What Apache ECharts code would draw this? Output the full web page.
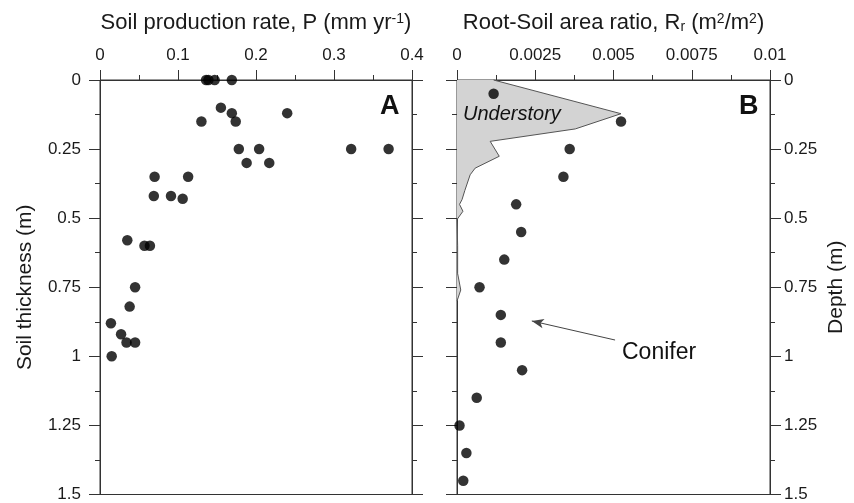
<!DOCTYPE html>
<html>
<head>
<meta charset="utf-8">
<script src="https://cdn.jsdelivr.net/npm/echarts@6/dist/echarts.min.js"></script>
<style>
  html, body { margin: 0; padding: 0; background: #fff; }
  #chart { width: 854px; height: 503px; }
</style>
</head>
<body>
<div id="chart"></div>
<script>
// Panel A: soil production rate against soil thickness
const prodRate = [0.136, 0.139, 0.147, 0.169, 0.155, 0.169, 0.174, 0.130, 0.240, 0.178,
                  0.204, 0.188, 0.217, 0.322, 0.370, 0.070, 0.113, 0.069, 0.091, 0.106,
                  0.035, 0.057, 0.064, 0.045, 0.038, 0.014, 0.027, 0.034, 0.045, 0.015];
const soilThickness = [0, 0, 0, 0, 0.10, 0.12, 0.15, 0.15, 0.12, 0.25,
                       0.25, 0.30, 0.30, 0.25, 0.25, 0.35, 0.35, 0.42, 0.42, 0.43,
                       0.58, 0.60, 0.60, 0.75, 0.82, 0.88, 0.92, 0.95, 0.95, 1.00];

// Panel B: conifer root-soil area ratio by depth
const coniferDepth = [0.05, 0.15, 0.25, 0.35, 0.45, 0.55, 0.65, 0.75, 0.85, 0.95, 1.05, 1.15, 1.25, 1.35, 1.45];
const coniferRatio = [0.00117, 0.00524, 0.0036, 0.0034, 0.00189, 0.00205, 0.00151, 0.00072,
                      0.0014, 0.0014, 0.00208, 0.00063, 0.00008, 0.0003, 0.0002];

// Panel B: understory root profile (shaded)
const understoryDepth = [0, 0.122, 0.177, 0.222, 0.276, 0.319, 0.343, 0.40, 0.433, 0.45, 0.475, 0.505, 0.60, 0.70, 0.76, 0.80];
const understoryRatio = [0.00117, 0.00524, 0.00378, 0.00106, 0.00135, 0.00058, 0.00042, 0.00025,
                         0.00016, 0.00008, 0.00019, 0.0, 0.00002, 0.00002, 0.00012, 0.0];

// Arrow pointing at the conifer profile: [ratio, depth] tail and head
const arrowTail = [0.00505, 0.941];
const arrowHead = [0.00239, 0.872];

const FONT = 'Liberation Sans';
const INK = '#1a1a1a';
const LINE = '#333';

function pairs(xs, ys) { return xs.map((x, i) => [x, ys[i]]); }

function depthAxis(gridIndex, position, showLabels, name, nameGap) {
  return {
    type: 'value', gridIndex, position, inverse: true,
    min: 0, max: 1.5, interval: 0.25,
    axisLine: { show: true, onZero: false, lineStyle: { color: LINE, width: 1 } },
    axisTick: { show: true, inside: false, length: 11, lineStyle: { color: LINE } },
    minorTick: { show: true, splitNumber: 2, length: 5, lineStyle: { color: LINE } },
    axisLabel: { show: showLabels, fontFamily: FONT, fontSize: 17, color: INK, margin: position === 'left' ? 19 : 14 },
    splitLine: { show: false },
    name: name || '', nameLocation: 'middle', nameRotate: 90, nameGap: nameGap || 0,
    nameTextStyle: { fontFamily: FONT, fontSize: 21, color: INK }
  };
}

function topAxis(gridIndex, max, interval, nameRich) {
  return {
    type: 'value', gridIndex, position: 'top',
    min: 0, max, interval,
    axisLine: { show: true, onZero: false, lineStyle: { color: LINE, width: 1 } },
    axisTick: { show: true, inside: false, length: 10, lineStyle: { color: LINE } },
    minorTick: { show: true, splitNumber: 2, length: 5, lineStyle: { color: LINE } },
    axisLabel: { fontFamily: FONT, fontSize: 17, color: INK, margin: 16 },
    splitLine: { show: false },
    name: nameRich, nameLocation: 'middle', nameGap: 46,
    nameTextStyle: {
      fontFamily: FONT, fontSize: 22, color: INK,
      rich: {
        sup: { fontFamily: FONT, fontSize: 14, color: INK, verticalAlign: 'top' },
        sub: { fontFamily: FONT, fontSize: 14, color: INK, verticalAlign: 'bottom' }
      }
    }
  };
}

const chart = echarts.init(document.getElementById('chart'), null, { renderer: 'canvas' });

chart.setOption({
  animation: false,
  backgroundColor: '#fff',
  grid: [
    { left: 100, top: 80, width: 312, height: 416, show: true, borderColor: LINE, borderWidth: 1, backgroundColor: 'transparent' },
    { left: 457, top: 80, width: 313, height: 416, show: true, borderColor: LINE, borderWidth: 1, backgroundColor: 'transparent' }
  ],
  xAxis: [
    topAxis(0, 0.4, 0.1, 'Soil production rate, P (mm yr{sup|-1})'),
    topAxis(1, 0.01, 0.0025, 'Root-Soil area ratio, R{sub|r} (m{sup|2}/m{sup|2})')
  ],
  yAxis: [
    depthAxis(0, 'left', true, 'Soil thickness (m)', 64),
    depthAxis(0, 'right', false),
    depthAxis(1, 'left', false),
    depthAxis(1, 'right', true, 'Depth (m)', 56)
  ],
  series: [
    {
      type: 'custom', xAxisIndex: 1, yAxisIndex: 2, z: 1, clip: false,
      data: pairs(understoryRatio, understoryDepth),
      renderItem: function (params, api) {
        if (params.dataIndex !== 0) return null;
        const outline = understoryRatio.map((r, i) => api.coord([r, understoryDepth[i]]));
        const last = understoryDepth[understoryDepth.length - 1];
        const poly = [api.coord([0, 0])].concat(outline, [api.coord([0, last])]);
        return {
          type: 'group',
          children: [
            { type: 'polygon', shape: { points: poly }, style: { fill: '#d3d3d3', stroke: null } },
            { type: 'polyline', shape: { points: outline }, style: { fill: null, stroke: '#555', lineWidth: 1 } }
          ]
        };
      }
    },
    {
      type: 'scatter', xAxisIndex: 0, yAxisIndex: 0, z: 3, clip: false,
      symbol: 'circle', symbolSize: 10.5,
      itemStyle: { color: '#000' },
      data: pairs(prodRate, soilThickness)
    },
    {
      type: 'scatter', xAxisIndex: 1, yAxisIndex: 2, z: 3, clip: false,
      symbol: 'circle', symbolSize: 10.5,
      itemStyle: { color: '#000' },
      data: pairs(coniferRatio, coniferDepth),
      markLine: {
        silent: true, animation: false,
        symbol: ['none', 'arrow'], symbolSize: [7, 12],
        lineStyle: { color: '#444', width: 1, type: 'solid' },
        label: { show: false },
        data: [[{ coord: arrowTail }, { coord: arrowHead }]]
      }
    }
  ],
  graphic: [
    { type: 'text', z: 100, left: 380, top: 93, style: { text: 'A', font: 'bold 27px "Liberation Sans"', fill: '#111' } },
    { type: 'text', z: 100, left: 739, top: 93, style: { text: 'B', font: 'bold 27px "Liberation Sans"', fill: '#111' } },
    { type: 'text', z: 100, left: 463, top: 104, style: { text: 'Understory', font: 'italic 20px "Liberation Sans"', fill: '#111' } },
    { type: 'text', z: 100, left: 622, top: 341, style: { text: 'Conifer', font: '23px "Liberation Sans"', fill: '#111' } }
  ]
});
</script>
</body>
</html>
